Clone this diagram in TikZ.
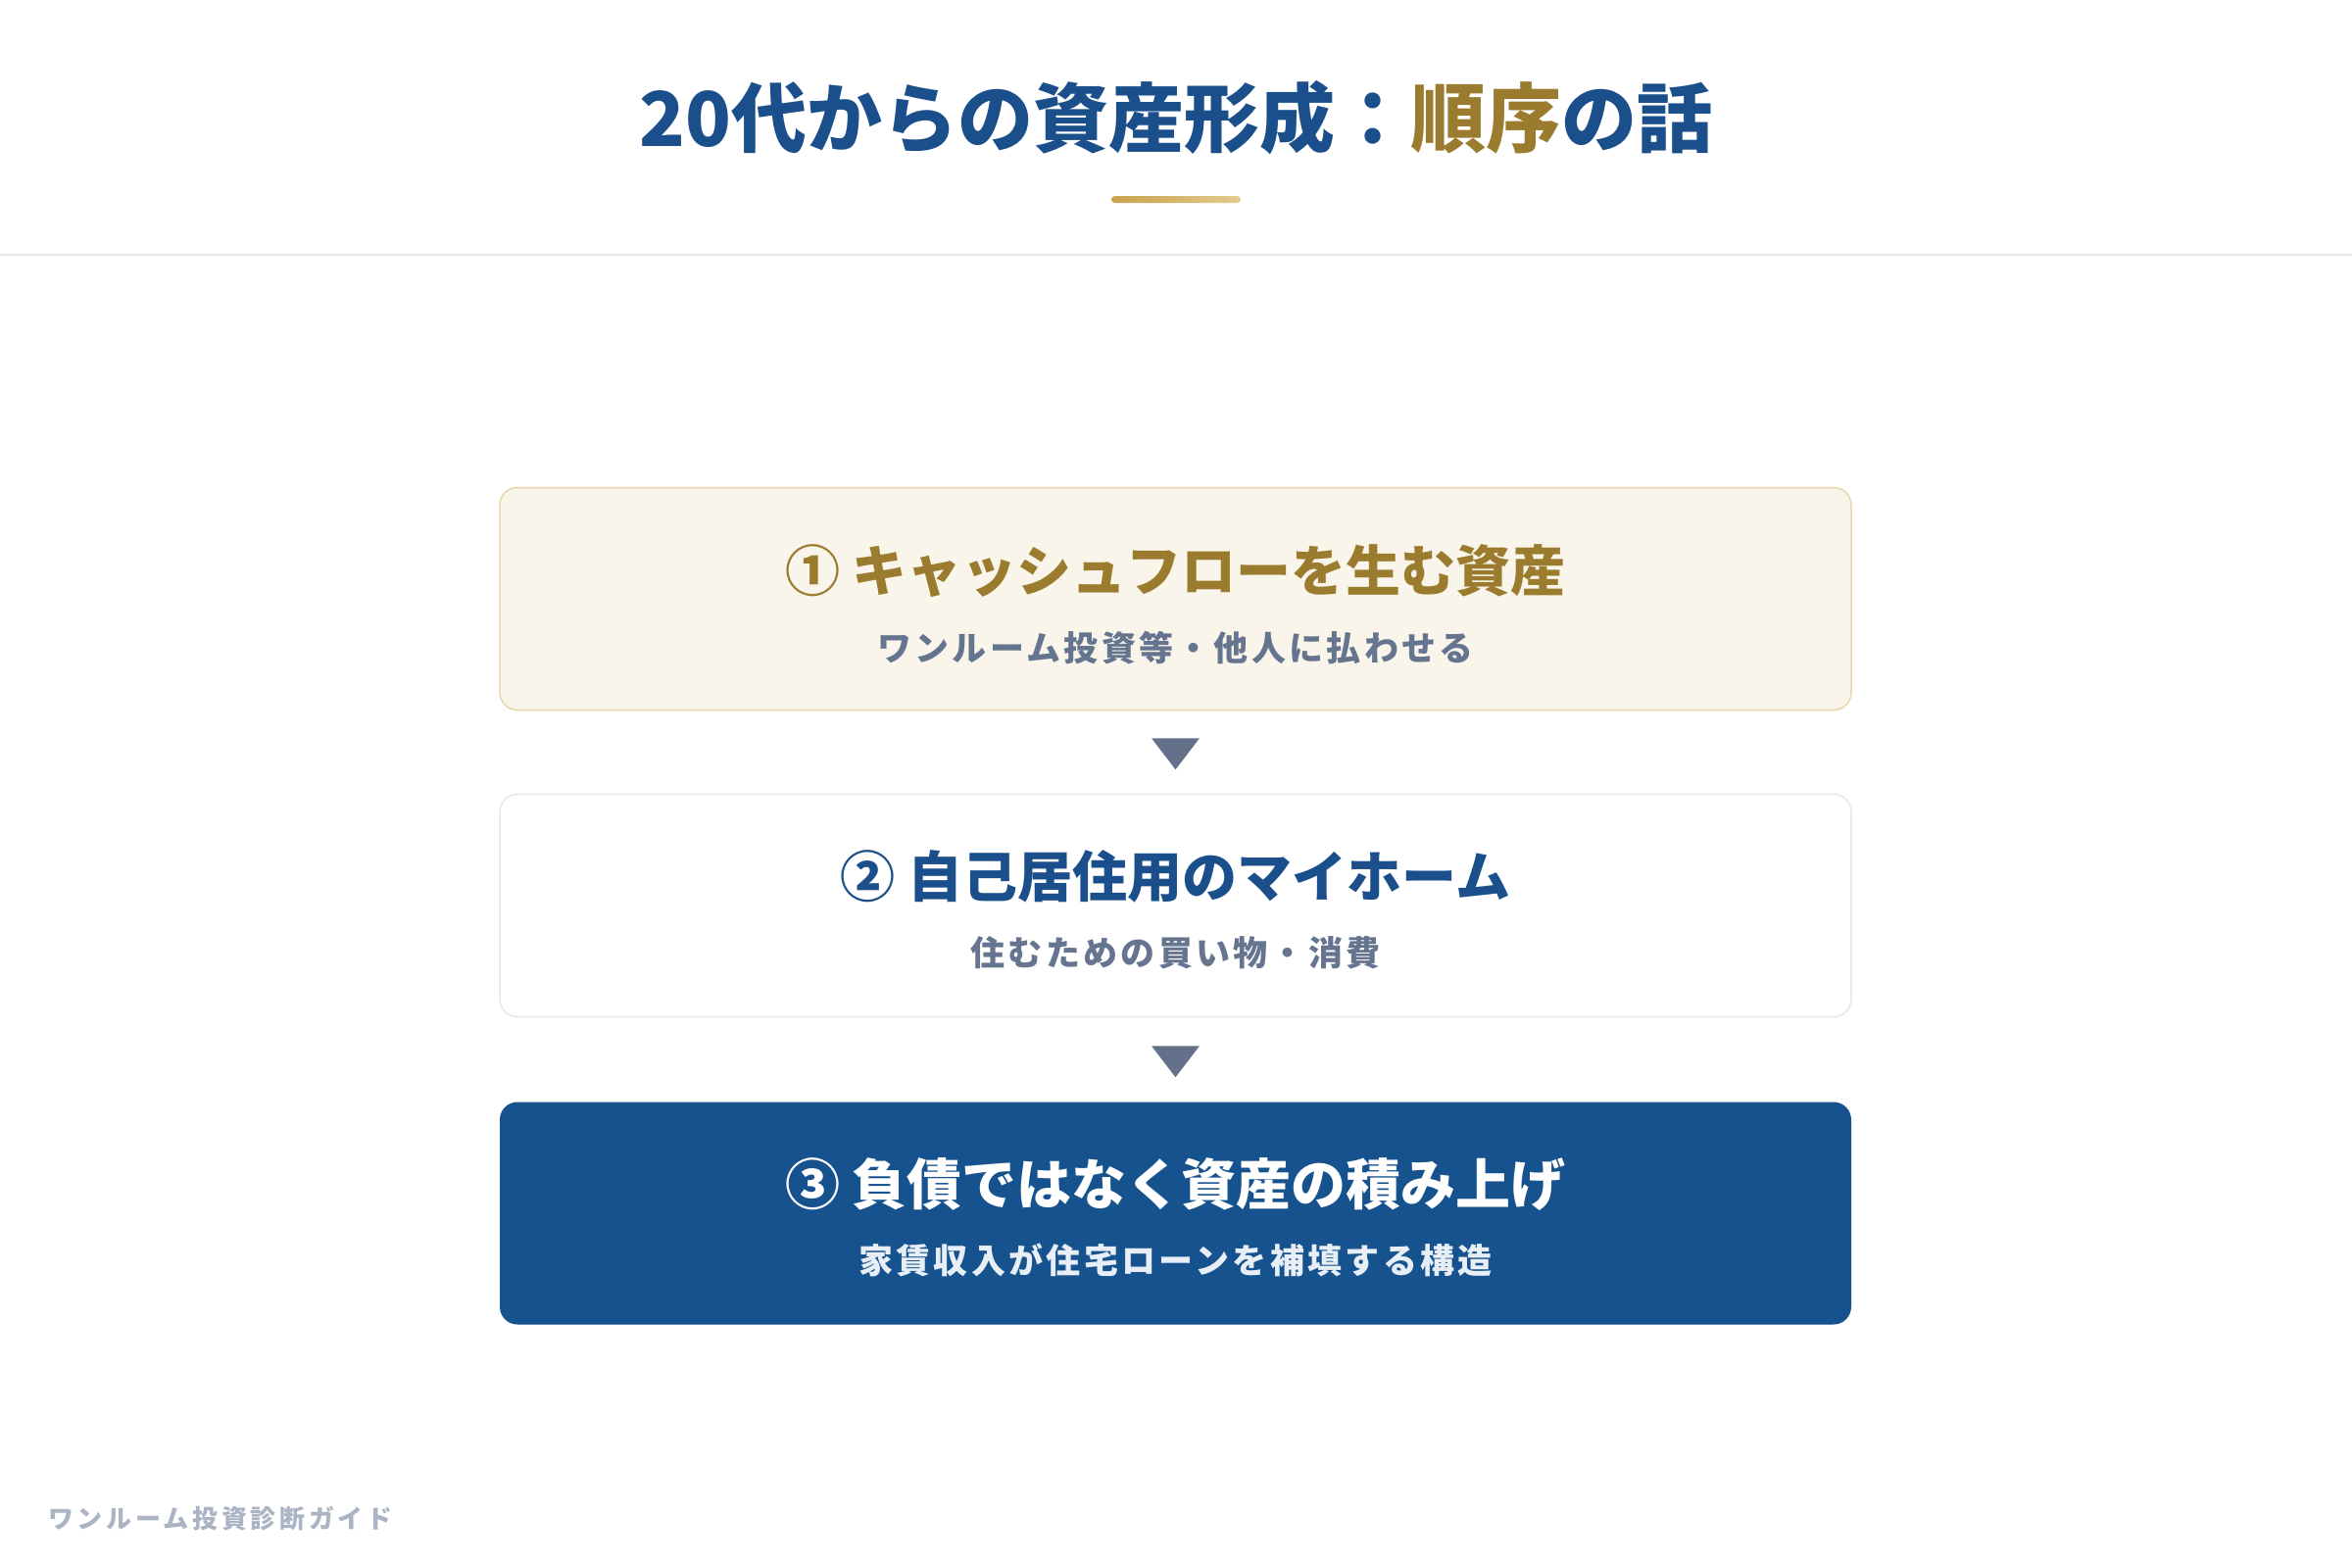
\documentclass[tikz,border=0pt]{standalone}
\usepackage{fontspec}
\newfontfamily\jp{Noto Sans CJK JP}
\newfontfamily\jpsp{Noto Sans CJK JP}[LetterSpace=9.5]
\newfontfamily\jpft{Noto Sans CJK JP}[LetterSpace=14]
\definecolor{tblue}{HTML}{1A4F8B}
\definecolor{tgold}{HTML}{9B7B2E}
\definecolor{cream}{HTML}{FAF5EA}
\definecolor{creamline}{HTML}{E9D6A9}
\definecolor{slate}{HTML}{66758F}
\definecolor{arrowc}{HTML}{64718A}
\definecolor{grayline}{HTML}{E3E8EF}
\definecolor{boxblue}{HTML}{16528E}
\definecolor{paletext}{HTML}{E8EEF6}
\definecolor{footc}{HTML}{AAB4C5}
\definecolor{barl}{HTML}{C9A24B}
\definecolor{barr}{HTML}{E3CB8E}
\definecolor{sepc}{HTML}{E6E8EC}
\tikzset{
  stepbox/.style={rectangle, rounded corners=18pt, minimum width=1379pt, minimum height=227pt, inner sep=0pt, line width=1.5pt},
  headtxt/.style={inner sep=0pt, anchor=center, font=\jp\bfseries\fontsize{56}{60}\selectfont},
  subtxt/.style={inner sep=0pt, anchor=center, font=\jpsp\bfseries\fontsize{35}{39}\selectfont},
  downtri/.style={fill=arrowc},
}
\begin{document}
\begin{tikzpicture}[x=1pt,y=-1pt]
\useasboundingbox (0,0) rectangle (2400,1600);
\fill[white] (0,0) rectangle (2400,1600);
% title
\node[inner sep=0pt, font=\jp\bfseries\fontsize{77}{81}\selectfont, text=tblue] (title) at (1200,120)
  {20代からの資産形成：\textcolor{tgold}{順序}の話};
\shade[left color=barl, right color=barr, rounded corners=3.5pt] (1134,200) rectangle (1266,207);
\fill[sepc] (0,259) rectangle (2400,261);
% boxes
\node[stepbox, fill=cream, draw=creamline] (b1) at (1199.5,611) {};
\node[stepbox, fill=white, draw=grayline] (b2) at (1199.5,924) {};
\node[stepbox, fill=boxblue] (b3) at (1199.5,1238) {};
% texts
\node[headtxt, text=tgold] (h1) at (1199.5,583) {① キャッシュフローを生む資産};
\node[subtxt, text=slate] (s1) at (1199.5,661) {ワンルーム投資等・他人に払わせる};
\node[headtxt, text=tblue] (h2) at (1199.5,894) {② 自己居住用のマイホーム};
\node[subtxt, text=slate] (s2) at (1199.5,972) {住むための買い物・消費};
\node[headtxt, text=white] (h3) at (1199.5,1209) {③ 負債ではなく資産の積み上げ};
\node[subtxt, text=paletext] (s3) at (1199.5,1286) {家賃収入が住宅ローンを補填する構造};
% arrows
\fill[downtri] (b1.south) ++(-24.5,28) -- ++(49,0) -- ++(-24.5,32) -- cycle;
\fill[downtri] (b2.south) ++(-24.5,29) -- ++(49,0) -- ++(-24.5,32) -- cycle;
% footer
\node[inner sep=0pt, anchor=west, font=\jpft\bfseries\fontsize{26}{29}\selectfont, text=footc] (foot) at (49,1550) {ワンルーム投資診断ガイド};
\end{tikzpicture}
\end{document}
